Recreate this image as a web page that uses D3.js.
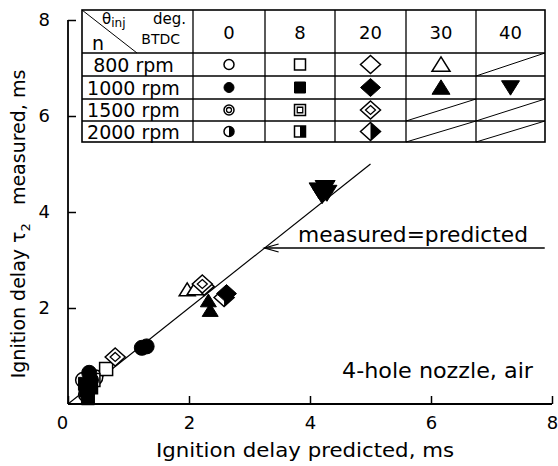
<!DOCTYPE html>
<html>
<head>
<meta charset="utf-8">
<script src="https://cdn.jsdelivr.net/npm/d3@7"></script>
<style>
  body { margin: 0; background: #fff; }
  text { font-family: "DejaVu Sans", sans-serif; fill: #000; }
</style>
</head>
<body>
<div id="vis-container"></div>
<script>
// chart values
let speeds = ["800 rpm", "1000 rpm", "1500 rpm", "2000 rpm"];
let timings = [0, 8, 20, 30, 40];
let xTicks = [0, 2, 4, 6, 8];
let yTicks = [2, 4, 6, 8];

// [predicted, measured] per speed / injection timing
let p800_0 = [[0.45, 0.55]];
let p800_8 = [[0.63, 0.73]];
let p800_20 = [[2.25, 2.45]];
let p800_30 = [[1.97, 2.38], [2.1, 2.4]];
let p1000_0 = [[0.35, 0.65], [0.38, 0.5], [1.22, 1.17], [1.3, 1.2]];
let p1000_8 = [[0.28, 0.42], [0.3, 0.28], [0.33, 0.12]];
let p1000_20 = [[2.62, 2.3]];
let p1000_30 = [[2.32, 2.15], [2.35, 1.95]];
let p1000_40 = [[4.15, 4.45], [4.25, 4.5], [4.2, 4.35], [4.28, 4.4]];
let p1500_0 = [[0.3, 0.2]];
let p1500_8 = [[0.42, 0.5]];
let p1500_20 = [[0.78, 0.98], [2.22, 2.5]];
let p2000_0 = [[0.25, 0.5]];
let p2000_8 = [[0.38, 0.35]];
let p2000_20 = [[2.58, 2.22]];

let series = [
  {speed: "800 rpm", timing: 0, pts: p800_0},
  {speed: "800 rpm", timing: 8, pts: p800_8},
  {speed: "800 rpm", timing: 20, pts: p800_20},
  {speed: "800 rpm", timing: 30, pts: p800_30},
  {speed: "1500 rpm", timing: 0, pts: p1500_0},
  {speed: "1500 rpm", timing: 8, pts: p1500_8},
  {speed: "1500 rpm", timing: 20, pts: p1500_20},
  {speed: "2000 rpm", timing: 0, pts: p2000_0},
  {speed: "2000 rpm", timing: 8, pts: p2000_8},
  {speed: "2000 rpm", timing: 20, pts: p2000_20},
  {speed: "1000 rpm", timing: 0, pts: p1000_0},
  {speed: "1000 rpm", timing: 8, pts: p1000_8},
  {speed: "1000 rpm", timing: 20, pts: p1000_20},
  {speed: "1000 rpm", timing: 30, pts: p1000_30},
  {speed: "1000 rpm", timing: 40, pts: p1000_40}
];

let shapeOf = {0: "circle", 8: "square", 20: "diamond", 30: "triangle", 40: "triangleDown"};
let styleOf = {"800 rpm": "open", "1000 rpm": "filled", "1500 rpm": "double", "2000 rpm": "half"};

let W = 558, H = 466;
let margin = {top: 20, right: 6, bottom: 62, left: 68};

let svg = d3.select("#vis-container")
  .append("svg")
  .attr("width", W)
  .attr("height", H);

let x = d3.scaleLinear().domain([0, 8]).range([margin.left, W - margin.right]);
let y = d3.scaleLinear().domain([0, 8]).range([H - margin.bottom, margin.top]);

//axes
let bottomAxis = d3.axisBottom(x).tickValues(xTicks).tickSize(-8).tickPadding(12);
let leftAxis = d3.axisLeft(y).tickValues(yTicks).tickSize(-8).tickPadding(18);

let gx = svg.append("g")
  .attr("transform", `translate(0,${y(0)})`)
  .call(bottomAxis);
let gy = svg.append("g")
  .attr("transform", `translate(${x(0)},0)`)
  .call(leftAxis);

svg.selectAll(".domain").attr("stroke", "#000").attr("stroke-width", 1.8);
svg.selectAll(".tick line").attr("stroke", "#000").attr("stroke-width", 1.5);
svg.selectAll(".tick text").attr("font-size", "18px").attr("fill", "#000")
  .attr("font-family", "DejaVu Sans, sans-serif");
gx.selectAll(".tick text").filter(d => d === 0).attr("dx", "-6");
gx.select(".domain").attr("d", `M${x(0)},0H${x(8)}`);
gy.select(".domain").attr("d", `M0,${y(0)}V${y(8)}`);

//axis labels
svg.append("text")
  .attr("x", 305)
  .attr("y", H - 9)
  .attr("font-size", "20px")
  .attr("text-anchor", "middle")
  .attr("textLength", 298)
  .attr("lengthAdjust", "spacingAndGlyphs")
  .text("Ignition delay predicted, ms");

let yl = svg.append("text")
  .attr("transform", `translate(25,224) rotate(-90)`)
  .attr("font-size", "19px")
  .attr("text-anchor", "middle");
yl.append("tspan").text("Ignition delay \u03c4");
yl.append("tspan").attr("font-size", "13px").attr("dy", 5).text("2");
yl.append("tspan").attr("dy", -5).text("\u00a0\u00a0\u00a0measured, ms");

//diagonal
svg.append("line")
  .attr("x1", x(0)).attr("y1", y(0))
  .attr("x2", x(5)).attr("y2", y(5))
  .attr("stroke", "#000").attr("stroke-width", 1.2);

//annotation arrow
let arrowAt = 3.25;
let ax = x(arrowAt), ay = y(arrowAt);
svg.append("line")
  .attr("x1", ax).attr("y1", ay)
  .attr("x2", x(7.88)).attr("y2", ay)
  .attr("stroke", "#000").attr("stroke-width", 1.3);
svg.append("path")
  .attr("d", `M${ax + 14},${ay - 4}L${ax},${ay}L${ax + 14},${ay + 4}`)
  .attr("fill", "none").attr("stroke", "#000").attr("stroke-width", 1.3);
svg.append("text")
  .attr("x", 298)
  .attr("y", ay - 6)
  .attr("font-size", "21px")
  .attr("textLength", 230)
  .attr("lengthAdjust", "spacingAndGlyphs")
  .text("measured=predicted");

svg.append("text")
  .attr("x", 342)
  .attr("y", y(0.54))
  .attr("font-size", "21px")
  .attr("textLength", 191)
  .attr("lengthAdjust", "spacingAndGlyphs")
  .text("4-hole nozzle, air");

//marker shapes
function shapePath(shape, r, part) {
  if (shape === "circle") {
    return part === "right"
      ? `M0,${-r}A${r},${r} 0 0,1 0,${r}Z`
      : `M${r},0A${r},${r} 0 1,1 ${-r},0A${r},${r} 0 1,1 ${r},0Z`;
  }
  if (shape === "square") {
    return part === "right"
      ? `M0,${-r}H${r}V${r}H0Z`
      : `M${-r},${-r}H${r}V${r}H${-r}Z`;
  }
  if (shape === "diamond") {
    let h = r * 0.9;
    return part === "right"
      ? `M0,${-h}L${r},0L0,${h}Z`
      : `M0,${-h}L${r},0L0,${h}L${-r},0Z`;
  }
  if (shape === "triangle") {
    return `M0,${-r * 0.85}L${r},${r * 0.75}L${-r},${r * 0.75}Z`;
  }
  return `M0,${r * 0.85}L${r},${-r * 0.75}L${-r},${-r * 0.75}Z`;
}

function drawMarker(g, shape, style, r) {
  if (style === "filled") {
    g.append("path").attr("d", shapePath(shape, r)).attr("fill", "#000").attr("stroke", "#000");
    return;
  }
  g.append("path").attr("d", shapePath(shape, r))
    .attr("fill", "#fff").attr("stroke", "#000").attr("stroke-width", 1.5);
  if (style === "double") {
    g.append("path").attr("d", shapePath(shape, r * 0.5))
      .attr("fill", "none").attr("stroke", "#000").attr("stroke-width", 1.3);
  }
  if (style === "half") {
    g.append("path").attr("d", shapePath(shape, r, "right")).attr("fill", "#000");
  }
}

let plotR = {circle: 7.5, square: 6.5, diamond: 10, triangle: 8, triangleDown: 10};
let tableR = {circle: 5, square: 5.5, diamond: 10, triangle: 9, triangleDown: 9};

//data points
let gPts = svg.append("g");
for (let s of series) {
  for (let p of s.pts) {
    let m = gPts.append("g").attr("transform", `translate(${x(p[0])},${y(p[1])})`);
    drawMarker(m, shapeOf[s.timing], styleOf[s.speed], plotR[shapeOf[s.timing]]);
  }
}

//legend table
let colX = [82, 193, 265, 335, 406, 476, 545];
let rowY = [10, 53, 76, 99, 121, 142];
let gT = svg.append("g");
gT.append("rect")
  .attr("x", colX[0]).attr("y", rowY[0])
  .attr("width", colX[6] - colX[0]).attr("height", rowY[5] - rowY[0])
  .attr("fill", "#fff").attr("stroke", "#000").attr("stroke-width", 1.6);
for (let i = 1; i < colX.length - 1; i++) {
  gT.append("line").attr("x1", colX[i]).attr("x2", colX[i])
    .attr("y1", rowY[0]).attr("y2", rowY[5]).attr("stroke", "#000").attr("stroke-width", 1.3);
}
for (let j = 1; j < rowY.length - 1; j++) {
  gT.append("line").attr("x1", colX[0]).attr("x2", colX[6])
    .attr("y1", rowY[j]).attr("y2", rowY[j]).attr("stroke", "#000").attr("stroke-width", 1.3);
}

//header corner
gT.append("line").attr("x1", colX[0]).attr("y1", rowY[0]).attr("x2", 137).attr("y2", rowY[1])
  .attr("stroke", "#000").attr("stroke-width", 1);
let th = gT.append("text").attr("x", 102).attr("y", 24).attr("font-size", "15px");
th.append("tspan").text("\u03b8");
th.append("tspan").attr("font-size", "12px").attr("dy", 3).text("inj");
gT.append("text").attr("x", 186).attr("y", 24).attr("font-size", "15px")
  .attr("text-anchor", "end").text("deg.");
gT.append("text").attr("x", 180).attr("y", 44).attr("font-size", "14px")
  .attr("text-anchor", "end").text("BTDC");
gT.append("text").attr("x", 92).attr("y", 50).attr("font-size", "19px").text("n");

timings.forEach((t, i) => {
  gT.append("text")
    .attr("x", (colX[i + 1] + colX[i + 2]) / 2)
    .attr("y", (rowY[0] + rowY[1]) / 2 + 7)
    .attr("font-size", "18px")
    .attr("text-anchor", "middle")
    .text(t);
});

speeds.forEach((sp, j) => {
  let cy = (rowY[j + 1] + rowY[j + 2]) / 2;
  gT.append("text")
    .attr("x", (colX[0] + colX[1]) / 2 - 4)
    .attr("y", cy + 7)
    .attr("font-size", "19px")
    .attr("text-anchor", "middle")
    .text(sp);
  timings.forEach((t, i) => {
    let cx = (colX[i + 1] + colX[i + 2]) / 2;
    let has = series.some(s => s.speed === sp && s.timing === t);
    if (has) {
      let m = gT.append("g").attr("transform", `translate(${cx},${cy})`);
      drawMarker(m, shapeOf[t], styleOf[sp], tableR[shapeOf[t]]);
    } else {
      gT.append("line")
        .attr("x1", colX[i + 1]).attr("y1", rowY[j + 2])
        .attr("x2", colX[i + 2]).attr("y2", rowY[j + 1])
        .attr("stroke", "#000").attr("stroke-width", 1);
    }
  });
});
</script>
</body>
</html>
